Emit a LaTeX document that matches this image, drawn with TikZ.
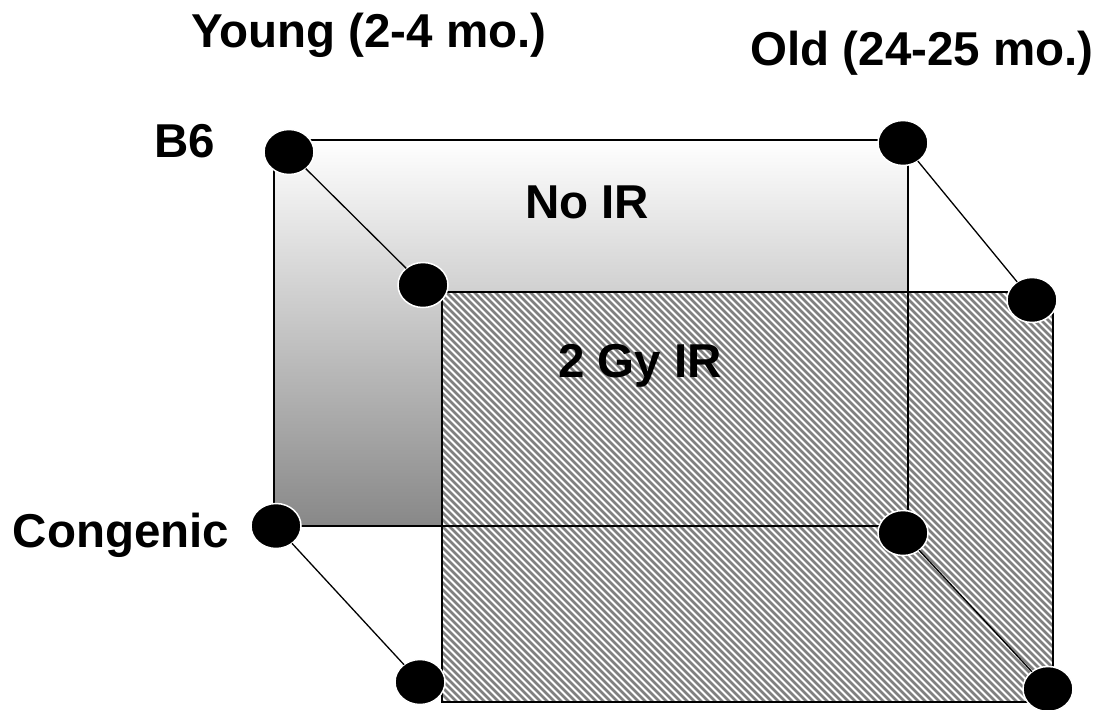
\documentclass[tikz,border=0pt]{standalone}
\usepackage{fontspec}
\setmainfont{Liberation Sans}
\usetikzlibrary{shapes.geometric}
\definecolor{hatchgray}{RGB}{128,128,128}
\definecolor{shadegray}{RGB}{136,136,136}
\begin{document}
\begin{tikzpicture}[x=1pt,y=-1pt,
  dot/.style={ellipse, fill=black, draw=white, line width=1.5pt,
    minimum width=50pt, minimum height=45pt, inner sep=0pt, outer sep=0pt},
  lbl/.style={font=\fontsize{47.5}{57}\selectfont\bfseries, anchor=base, inner sep=0pt},
  depth/.style={line width=1.3pt}]
\useasboundingbox (0,0) rectangle (1102,709);

% back face: shaded from white to grey
\shade[top color=white, bottom color=shadegray] (274,140) rectangle (908,526);

% front face: diagonal grey hatching
\begin{scope}
  \clip (442,292) rectangle (1053,702);
  \fill[white] (442,292) rectangle (1053,702);
  \foreach \c in {-266,-259,...,770}
    \draw[hatchgray, line width=2.7pt] (\c+250,250) -- (\c+750,750);
\end{scope}
\draw[line width=1.5pt] (442,292) rectangle (1053,702);

% back face outline, visible through the front face
\draw[line width=2pt] (274,140) rectangle (908,526);

% corner dots
\node[dot] (btl) at (289,152) {};
\node[dot] (btr) at (903,143) {};
\node[dot] (bbl) at (276,526) {};
\node[dot] (bbr) at (903,533) {};
\node[dot] (ftl) at (423,285) {};
\node[dot] (ftr) at (1032,300) {};
\node[dot] (fbl) at (420,682) {};
\node[dot] (fbr) at (1048,689) {};

% depth edges
\draw[depth] (btl) -- (ftl);
\draw[depth] (btr) -- (ftr);
\draw[depth] (bbl) -- (fbl);
\draw[depth] (bbr) -- (fbr);

% labels
\node[lbl] (young) at (369,48) {Young (2-4 mo.)};
\node[lbl] (old) at (922,65) {Old (24-25 mo.)};
\node[lbl] (b6) at (185,157) {B6};
\node[lbl] (congenic) at (121,547) {Congenic};
\node[lbl] (noir) at (587,218) {No IR};
\node[lbl] (gyir) at (640,377) {2 Gy IR};
\end{tikzpicture}
\end{document}
